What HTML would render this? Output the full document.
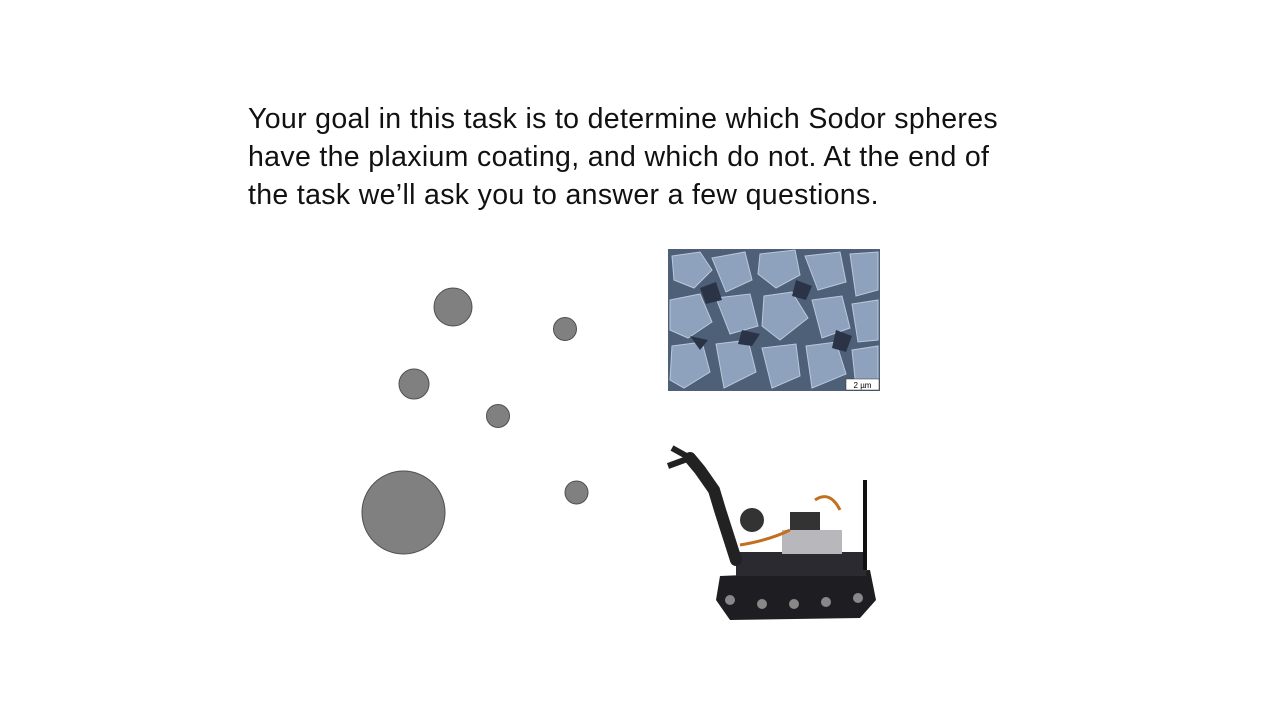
<!DOCTYPE html>
<html>
<head>
<meta charset="utf-8">
<style>
  html,body{margin:0;padding:0;background:#fff;}
  #slide{position:relative;width:1280px;height:720px;overflow:hidden;background:#fff;font-family:"Liberation Sans",sans-serif;}
  #intro{position:absolute;left:248px;top:100px;width:900px;font-size:28.5px;line-height:38px;color:#111;letter-spacing:0.33px;white-space:nowrap;}
</style>
</head>
<body>
<div id="slide">
  <div id="intro">Your goal in this task is to determine which Sodor spheres<br>have the plaxium coating, and which do not. At the end of<br>the task we’ll ask you to answer a few questions.</div>

  <svg width="1280" height="720" style="position:absolute;left:0;top:0">
    <g fill="#808080" stroke="#505050" stroke-width="1">
      <circle cx="453" cy="307" r="19"/>
      <circle cx="565" cy="329" r="11.5"/>
      <circle cx="414" cy="384" r="15"/>
      <circle cx="498" cy="416" r="11.5"/>
      <circle cx="403.5" cy="512.5" r="41.5"/>
      <circle cx="576.5" cy="492.5" r="11.5"/>
    </g>

    <g>
      <rect x="668" y="249" width="212" height="142" fill="#4e6078"/>
      <g fill="#8fa2bd" stroke="#b9c8dc" stroke-width="1">
        <polygon points="672,256 700,252 712,270 694,288 674,280"/>
        <polygon points="712,258 745,252 752,280 726,292"/>
        <polygon points="760,254 795,250 800,275 776,288 758,274"/>
        <polygon points="805,256 840,252 846,282 818,290"/>
        <polygon points="850,254 878,252 878,290 856,296"/>
        <polygon points="670,300 700,294 712,322 688,338 670,330"/>
        <polygon points="716,298 750,294 758,326 730,334"/>
        <polygon points="764,296 792,292 808,318 780,340 762,326"/>
        <polygon points="812,300 842,296 850,328 822,338"/>
        <polygon points="852,304 878,300 878,340 858,342"/>
        <polygon points="672,346 702,342 710,372 684,388 670,380"/>
        <polygon points="716,344 748,340 756,372 724,388"/>
        <polygon points="762,348 796,344 800,376 772,388"/>
        <polygon points="806,346 836,342 846,374 812,388"/>
        <polygon points="852,350 878,346 878,380 856,388"/>
      </g>
      <g fill="#2a3446">
        <polygon points="700,288 716,282 722,300 706,304"/>
        <polygon points="796,280 812,286 806,300 792,296"/>
        <polygon points="742,330 760,334 752,346 738,344"/>
        <polygon points="836,330 852,336 846,352 832,348"/>
        <polygon points="690,336 708,340 700,350"/>
      </g>
      <rect x="846" y="379" width="33" height="11" fill="#fff" stroke="#333" stroke-width="0.5"/>
      <text x="862.5" y="388" font-size="8" text-anchor="middle" font-family="Liberation Sans, sans-serif" fill="#000">2 µm</text>
    </g>

    <g>
      <path d="M720 576 L870 570 L876 600 L860 618 L730 620 L716 600 Z" fill="#1e1e22"/>
      <g fill="#888">
        <circle cx="730" cy="600" r="5"/><circle cx="762" cy="604" r="5"/><circle cx="794" cy="604" r="5"/><circle cx="826" cy="602" r="5"/><circle cx="858" cy="598" r="5"/>
      </g>
      <rect x="736" y="552" width="130" height="24" fill="#2a2a30"/>
      <rect x="782" y="530" width="60" height="24" fill="#b8b8bc"/>
      <rect x="790" y="512" width="30" height="18" fill="#333"/>
      <path d="M815 500 Q830 490 840 510" stroke="#c07020" stroke-width="3" fill="none"/>
      <rect x="863" y="480" width="4" height="90" fill="#111"/>
      <path d="M736 560 L720 510 L714 490 L700 470 L690 458" stroke="#222" stroke-width="12" fill="none" stroke-linecap="round"/>
      <path d="M690 458 L672 448 M690 458 L668 466" stroke="#222" stroke-width="6" fill="none"/>
      <circle cx="752" cy="520" r="12" fill="#333"/>
      <path d="M740 545 Q770 540 790 530" stroke="#c07020" stroke-width="3" fill="none"/>
    </g>
  </svg>
</div>
</body>
</html>
